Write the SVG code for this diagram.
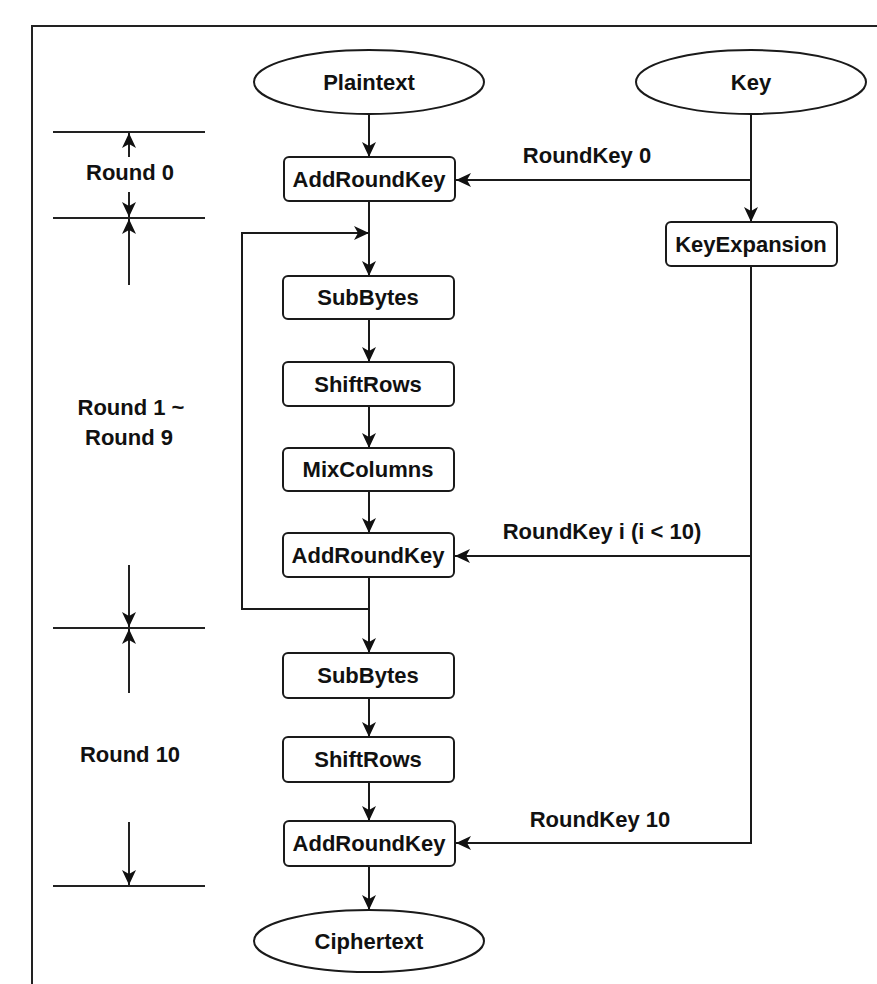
<svg xmlns="http://www.w3.org/2000/svg" width="877" height="984" viewBox="0 0 877 984">
<style>
.box{fill:#fff;stroke:#1a1a1a;stroke-width:2}
.t{font-family:"Liberation Sans",Arial,sans-serif;font-weight:bold;font-size:22px;fill:#111;text-anchor:middle}
.c{fill:none;stroke:#1a1a1a;stroke-width:2}
.dim{fill:none;stroke:#222;stroke-width:2}
</style>
<defs>
<marker id="ah" viewBox="0 -8 16 16" refX="15" refY="0" markerWidth="16" markerHeight="16" markerUnits="userSpaceOnUse" orient="auto">
<path d="M0,-7 L15,0 L0,7 L4,0 Z" fill="#111"/>
</marker>
</defs>
<rect width="877" height="984" fill="#fff"/>
<g id="frame">
<path class="dim" d="M32,984 V26 H877"/>
</g>
<g id="dimensions">
<path class="dim" d="M53,132 H205 M53,218 H205 M53,628 H205 M53,886 H205"/>
<line class="dim" x1="129" y1="157" x2="129" y2="133" marker-end="url(#ah)"/>
<line class="dim" x1="129" y1="192" x2="129" y2="217" marker-end="url(#ah)"/>
<line class="dim" x1="129" y1="285" x2="129" y2="219" marker-end="url(#ah)"/>
<line class="dim" x1="129" y1="565" x2="129" y2="627" marker-end="url(#ah)"/>
<line class="dim" x1="129" y1="693" x2="129" y2="629" marker-end="url(#ah)"/>
<line class="dim" x1="129" y1="822" x2="129" y2="885" marker-end="url(#ah)"/>
<text class="t" x="130" y="180">Round 0</text>
<text class="t" x="131" y="415">Round 1 ~</text>
<text class="t" x="129" y="445">Round 9</text>
<text class="t" x="130" y="762">Round 10</text>
</g>
<g id="connectors">
<line class="c" x1="369" y1="115" x2="369" y2="157" marker-end="url(#ah)"/>
<line class="c" x1="751" y1="115" x2="751" y2="222" marker-end="url(#ah)"/>
<line class="c" x1="751" y1="180" x2="456" y2="180" marker-end="url(#ah)"/>
<line class="c" x1="369" y1="201" x2="369" y2="276" marker-end="url(#ah)"/>
<path class="c" d="M369,609 H242 V233 H369" marker-end="url(#ah)"/>
<line class="c" x1="369" y1="319" x2="369" y2="362" marker-end="url(#ah)"/>
<line class="c" x1="369" y1="406" x2="369" y2="448" marker-end="url(#ah)"/>
<line class="c" x1="369" y1="491" x2="369" y2="533" marker-end="url(#ah)"/>
<path class="c" d="M751,266 V843 H456" marker-end="url(#ah)"/>
<line class="c" x1="751" y1="556" x2="455" y2="556" marker-end="url(#ah)"/>
<line class="c" x1="369" y1="577" x2="369" y2="653" marker-end="url(#ah)"/>
<line class="c" x1="369" y1="698" x2="369" y2="737" marker-end="url(#ah)"/>
<line class="c" x1="369" y1="782" x2="369" y2="821" marker-end="url(#ah)"/>
<line class="c" x1="369" y1="866" x2="369" y2="910" marker-end="url(#ah)"/>
<text class="t" x="587" y="163">RoundKey 0</text>
<text class="t" x="602" y="539">RoundKey i (i &lt; 10)</text>
<text class="t" x="600" y="827">RoundKey 10</text>
</g>
<g id="plaintext">
<ellipse class="box" cx="369" cy="82" rx="115" ry="32"/>
<text class="t" x="369" y="90">Plaintext</text>
</g>
<g id="key">
<ellipse class="box" cx="751" cy="82" rx="115" ry="32"/>
<text class="t" x="751" y="90">Key</text>
</g>
<g id="addroundkey0">
<rect class="box" x="284" y="157" width="171" height="44" rx="5"/>
<text class="t" x="369" y="187">AddRoundKey</text>
</g>
<g id="keyexpansion">
<rect class="box" x="666" y="222" width="171" height="44" rx="5"/>
<text class="t" x="751" y="252">KeyExpansion</text>
</g>
<g id="subbytes1">
<rect class="box" x="283" y="276" width="171" height="43" rx="5"/>
<text class="t" x="368" y="305">SubBytes</text>
</g>
<g id="shiftrows1">
<rect class="box" x="283" y="362" width="171" height="44" rx="5"/>
<text class="t" x="368" y="392">ShiftRows</text>
</g>
<g id="mixcolumns">
<rect class="box" x="283" y="448" width="171" height="43" rx="5"/>
<text class="t" x="368" y="477">MixColumns</text>
</g>
<g id="addroundkey1">
<rect class="box" x="283" y="533" width="171" height="44" rx="5"/>
<text class="t" x="368" y="563">AddRoundKey</text>
</g>
<g id="subbytes2">
<rect class="box" x="283" y="653" width="171" height="45" rx="5"/>
<text class="t" x="368" y="683">SubBytes</text>
</g>
<g id="shiftrows2">
<rect class="box" x="283" y="737" width="171" height="45" rx="5"/>
<text class="t" x="368" y="767">ShiftRows</text>
</g>
<g id="addroundkey10">
<rect class="box" x="284" y="821" width="171" height="45" rx="5"/>
<text class="t" x="369" y="851">AddRoundKey</text>
</g>
<g id="ciphertext">
<ellipse class="box" cx="369" cy="941" rx="115" ry="31"/>
<text class="t" x="369" y="949">Ciphertext</text>
</g>
</svg>
